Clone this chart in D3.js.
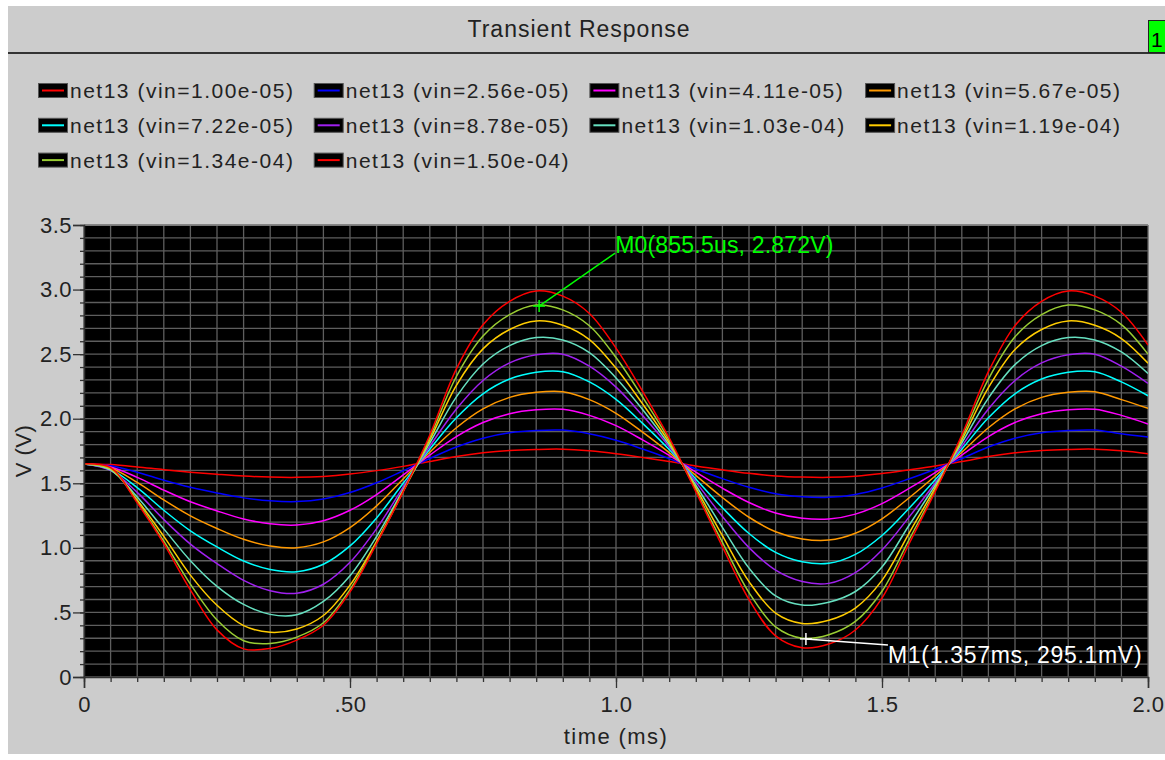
<!DOCTYPE html>
<html>
<head>
<meta charset="utf-8">
<script src="https://cdn.jsdelivr.net/npm/d3@7"></script>
<style>
  body { margin: 0; background: #fff; }
  svg { display: block; font-family: "Liberation Sans", Arial, sans-serif; }
</style>
</head>
<body>
<div id="chart"></div>
<script>
// time axis (ms)
const timeMs = [0, 0.05, 0.1, 0.15, 0.2, 0.25, 0.3, 0.35, 0.4, 0.45, 0.5, 0.55, 0.6,
  0.65, 0.7, 0.75, 0.8, 0.85, 0.9, 0.95, 1.0, 1.05, 1.1,
  1.15, 1.2, 1.25, 1.3, 1.35, 1.4, 1.45, 1.5, 1.55, 1.6,
  1.65, 1.7, 1.75, 1.8, 1.85, 1.9, 1.95, 2.0]

// net13 voltage (V) per vin sweep value
const vin_1_00e05 = [1.65, 1.645, 1.627, 1.605, 1.586, 1.57, 1.556, 1.548, 1.546, 1.553, 1.571, 1.598, 1.631,
  1.668, 1.707, 1.736, 1.754, 1.762, 1.764, 1.751, 1.729, 1.70, 1.668,
  1.634, 1.604, 1.577, 1.557, 1.548, 1.546, 1.555, 1.575, 1.603, 1.633,
  1.668, 1.707, 1.736, 1.754, 1.762, 1.764, 1.751, 1.729]
const vin_2_56e05 = [1.65, 1.635, 1.586, 1.524, 1.469, 1.425, 1.387, 1.364, 1.358, 1.378, 1.428, 1.504, 1.597,
  1.692, 1.781, 1.849, 1.891, 1.909, 1.912, 1.883, 1.833, 1.765, 1.691,
  1.611, 1.536, 1.469, 1.419, 1.395, 1.391, 1.414, 1.464, 1.533, 1.609,
  1.692, 1.781, 1.849, 1.891, 1.909, 1.912, 1.883, 1.858]
const vin_4_11e05 = [1.65, 1.626, 1.546, 1.447, 1.357, 1.286, 1.224, 1.186, 1.177, 1.21, 1.291, 1.413, 1.565,
  1.718, 1.862, 1.971, 2.039, 2.069, 2.073, 2.026, 1.946, 1.836, 1.716,
  1.586, 1.462, 1.351, 1.27, 1.229, 1.223, 1.261, 1.343, 1.458, 1.582,
  1.718, 1.862, 1.971, 2.039, 2.069, 2.073, 2.026, 1.959]
const vin_5_67e05 = [1.65, 1.618, 1.507, 1.371, 1.248, 1.15, 1.066, 1.014, 1.001, 1.046, 1.157, 1.325, 1.533,
  1.74, 1.93, 2.076, 2.165, 2.204, 2.209, 2.148, 2.042, 1.896, 1.737,
  1.561, 1.39, 1.237, 1.125, 1.069, 1.06, 1.113, 1.225, 1.384, 1.556,
  1.74, 1.93, 2.076, 2.165, 2.204, 2.209, 2.148, 2.08]
const vin_7_22e05 = [1.65, 1.608, 1.466, 1.291, 1.132, 1.007, 0.898, 0.832, 0.815, 0.873, 1.015, 1.232, 1.50,
  1.764, 2.007, 2.193, 2.307, 2.36, 2.364, 2.285, 2.15, 1.964, 1.761,
  1.534, 1.311, 1.111, 0.965, 0.892, 0.88, 0.949, 1.096, 1.303, 1.527,
  1.764, 2.007, 2.193, 2.307, 2.36, 2.364, 2.285, 2.178]
const vin_8_78e05 = [1.65, 1.60, 1.43, 1.219, 1.029, 0.878, 0.748, 0.668, 0.648, 0.718, 0.888, 1.149, 1.47,
  1.786, 2.075, 2.296, 2.432, 2.495, 2.50, 2.407, 2.245, 2.024, 1.782,
  1.511, 1.243, 1.002, 0.827, 0.739, 0.725, 0.808, 0.984, 1.234, 1.502,
  1.786, 2.075, 2.296, 2.432, 2.495, 2.50, 2.407, 2.274]
const vin_1_03e04 = [1.65, 1.603, 1.393, 1.147, 0.901, 0.702, 0.562, 0.485, 0.482, 0.585, 0.784, 1.088, 1.451,
  1.812, 2.169, 2.424, 2.566, 2.628, 2.61, 2.512, 2.316, 2.071, 1.797,
  1.485, 1.158, 0.843, 0.628, 0.557, 0.579, 0.662, 0.852, 1.169, 1.485,
  1.812, 2.16, 2.419, 2.566, 2.628, 2.61, 2.517, 2.35]
const vin_1_19e04 = [1.65, 1.611, 1.37, 1.089, 0.789, 0.555, 0.398, 0.346, 0.372, 0.476, 0.711, 1.05, 1.441,
  1.835, 2.259, 2.541, 2.691, 2.757, 2.724, 2.613, 2.392, 2.115, 1.816,
  1.464, 1.094, 0.739, 0.495, 0.415, 0.44, 0.534, 0.748, 1.107, 1.464,
  1.835, 2.24, 2.536, 2.691, 2.757, 2.724, 2.621, 2.43]
const vin_1_34e04 = [1.65, 1.615, 1.358, 1.052, 0.719, 0.441, 0.281, 0.26, 0.309, 0.42, 0.677, 1.038, 1.435,
  1.855, 2.327, 2.64, 2.806, 2.88, 2.843, 2.72, 2.474, 2.167, 1.835,
  1.446, 1.042, 0.654, 0.388, 0.30, 0.327, 0.43, 0.664, 1.056, 1.446,
  1.855, 2.306, 2.634, 2.806, 2.88, 2.843, 2.729, 2.50]
const vin_1_50e04 = [1.65, 1.621, 1.348, 1.033, 0.674, 0.365, 0.218, 0.221, 0.286, 0.401, 0.659, 1.033, 1.435,
  1.874, 2.386, 2.728, 2.909, 2.989, 2.949, 2.815, 2.547, 2.212, 1.851,
  1.435, 1.010, 0.600, 0.319, 0.227, 0.255, 0.364, 0.611, 1.024, 1.435,
  1.874, 2.364, 2.721, 2.909, 2.989, 2.949, 2.824, 2.571]

const seriesNames = ["net13 (vin=1.00e-05)", "net13 (vin=2.56e-05)", "net13 (vin=4.11e-05)", "net13 (vin=5.67e-05)",
  "net13 (vin=7.22e-05)", "net13 (vin=8.78e-05)", "net13 (vin=1.03e-04)", "net13 (vin=1.19e-04)",
  "net13 (vin=1.34e-04)", "net13 (vin=1.50e-04)"]
const seriesValues = [vin_1_00e05, vin_2_56e05, vin_4_11e05, vin_5_67e05, vin_7_22e05,
  vin_8_78e05, vin_1_03e04, vin_1_19e04, vin_1_34e04, vin_1_50e04]
const seriesColors = ["#ff0000", "#0000ff", "#ff00ff", "#ff9900", "#00ffff",
  "#a020f0", "#66e0c0", "#ffcc00", "#99cc33", "#ff0000"]

// ticks
const xMajor = [0, 0.5, 1.0, 1.5, 2.0]
const xLabels = ["0", ".50", "1.0", "1.5", "2.0"]
const yMajor = [0, 0.5, 1.0, 1.5, 2.0, 2.5, 3.0, 3.5]
const yLabels = ["0", ".5", "1.0", "1.5", "2.0", "2.5", "3.0", "3.5"]
const xMinor = d3.range(0, 41).map(i => i * 0.05)
const yMinor = d3.range(0, 36).map(i => i * 0.1)

// markers
const markers = [
  { t: 0.8555, v: 2.872, text: "M0(855.5us, 2.872V)", color: "#00ff00", dx: 76, dy: -53, tdy: 0, spacing: 0.2 },
  { t: 1.357, v: 0.2951, text: "M1(1.357ms, 295.1mV)", color: "#ffffff", dx: 82, dy: 6, tdy: 18, spacing: 0.7 }
]

const W = 1165, H = 760
const margin = { top: 225, left: 84 }
const width = 1064, height = 452

const svg = d3.select("#chart").append("svg")
  .attr("width", W)
  .attr("height", H)

svg.append("rect").attr("width", W).attr("height", H).attr("fill", "#fff")
svg.append("rect")
  .attr("x", 8).attr("y", 6)
  .attr("width", W - 8).attr("height", 748)
  .attr("fill", "#cccccc")

// title bar
svg.append("text")
  .attr("x", 579).attr("y", 37)
  .attr("text-anchor", "middle")
  .attr("font-size", 23)
  .attr("letter-spacing", 1)
  .attr("fill", "#222")
  .text("Transient Response")

svg.append("line")
  .attr("x1", 8).attr("x2", W)
  .attr("y1", 53).attr("y2", 53)
  .attr("stroke", "#333").attr("stroke-width", 2)

svg.append("rect")
  .attr("x", 1148.5).attr("y", 20.5)
  .attr("width", 20).attr("height", 32)
  .attr("fill", "#00ff00").attr("stroke", "#222")
svg.append("text")
  .attr("x", 1151).attr("y", 47)
  .attr("font-size", 21)
  .attr("fill", "#000")
  .text("1")

// legend
const legend = svg.append("g")
seriesNames.forEach((name, i) => {
  const col = i % 4, row = Math.floor(i / 4)
  const g = legend.append("g")
    .attr("transform", "translate(" + (38 + col * 275.7) + "," + (90 + row * 34.8) + ")")
  g.append("rect")
    .attr("x", 0.5).attr("y", -6.5)
    .attr("width", 29).attr("height", 14)
    .attr("fill", "#000").attr("stroke", "#555")
  g.append("line")
    .attr("x1", 4).attr("x2", 26)
    .attr("y1", 0.5).attr("y2", 0.5)
    .attr("stroke", seriesColors[i]).attr("stroke-width", 2)
  g.append("text")
    .attr("x", 32).attr("y", 8)
    .attr("font-size", 21)
    .attr("letter-spacing", 1.5)
    .attr("fill", "#222")
    .text(name)
})

// plot
const x = d3.scaleLinear().domain([0, 2]).range([0, width])
const y = d3.scaleLinear().domain([0, 3.5]).range([height, 0])

const plot = svg.append("g")
  .attr("transform", "translate(" + margin.left + "," + margin.top + ")")

plot.append("rect")
  .attr("width", width).attr("height", height)
  .attr("fill", "#000")

plot.append("clipPath").attr("id", "clip")
  .append("rect").attr("width", width).attr("height", height)

// grid
plot.append("g")
  .selectAll("line")
  .data(xMinor)
  .join("line")
    .attr("x1", d => x(d)).attr("x2", d => x(d))
    .attr("y1", 0).attr("y2", height)
    .attr("stroke", "#5e5e5e").attr("stroke-width", 1.3)
plot.append("g")
  .selectAll("line")
  .data(yMinor)
  .join("line")
    .attr("x1", 0).attr("x2", width)
    .attr("y1", d => y(d)).attr("y2", d => y(d))
    .attr("stroke", "#5e5e5e").attr("stroke-width", 1.3)
plot.append("line")
  .attr("x1", 0).attr("x2", width)
  .attr("y1", y(3.5)).attr("y2", y(3.5))
  .attr("stroke", "#8a8a8a").attr("stroke-width", 1.3)

// curves
const line = d3.line()
  .curve(d3.curveCatmullRom.alpha(0.5))
  .x((d, i) => x(timeMs[i]))
  .y(d => y(d))

plot.append("g")
  .attr("clip-path", "url(#clip)")
  .selectAll("path")
  .data(seriesValues)
  .join("path")
    .attr("d", d => line(d))
    .attr("fill", "none")
    .attr("stroke", (d, i) => seriesColors[i])
    .attr("stroke-width", 1.5)

// markers
markers.forEach(m => {
  const mx = x(m.t), my = y(m.v)
  const g = plot.append("g").attr("stroke", m.color).attr("stroke-width", 1.5)
  g.append("line").attr("x1", mx).attr("x2", mx + m.dx).attr("y1", my).attr("y2", my + m.dy)
  g.append("line").attr("x1", mx - 6).attr("x2", mx + 6).attr("y1", my).attr("y2", my)
  g.append("line").attr("x1", mx).attr("x2", mx).attr("y1", my - 6).attr("y2", my + 6)
  plot.append("text")
    .attr("x", mx + m.dx).attr("y", my + m.dy + m.tdy)
    .attr("font-size", 23)
    .attr("letter-spacing", m.spacing)
    .attr("fill", m.color)
    .text(m.text)
})

// axes
const axisColor = "#333"
plot.append("g")
  .call(d3.axisLeft(y).tickValues(yMajor).tickSize(11).tickPadding(1)
    .tickFormat((d, i) => yLabels[i]))
plot.append("g")
  .call(d3.axisLeft(y).tickValues(yMinor).tickSize(4).tickFormat(""))
  .select(".domain").remove()

plot.append("g")
  .attr("transform", "translate(0," + height + ")")
  .call(d3.axisBottom(x).tickValues(xMajor).tickSize(11).tickPadding(8)
    .tickFormat((d, i) => xLabels[i]))
plot.append("g")
  .attr("transform", "translate(0," + height + ")")
  .call(d3.axisBottom(x).tickValues(xMinor).tickSize(5).tickFormat(""))
  .select(".domain").remove()

plot.selectAll(".domain").attr("stroke", axisColor).attr("stroke-width", 1.5)
plot.selectAll(".tick line").attr("stroke", axisColor).attr("stroke-width", 1.3)
plot.selectAll(".tick text")
  .attr("fill", "#222")
  .attr("font-size", 22)
  .attr("font-family", "Liberation Sans, Arial, sans-serif")
  .attr("letter-spacing", 0.5)

svg.append("text")
  .attr("x", margin.left + width / 2).attr("y", 744)
  .attr("text-anchor", "middle")
  .attr("font-size", 22)
  .attr("letter-spacing", 1.4)
  .attr("fill", "#222")
  .text("time (ms)")

svg.append("text")
  .attr("transform", "translate(31," + (margin.top + height / 2) + ") rotate(-90)")
  .attr("text-anchor", "middle")
  .attr("font-size", 22)
  .attr("letter-spacing", 0.5)
  .attr("fill", "#222")
  .text("V (V)")
</script>
</body>
</html>
